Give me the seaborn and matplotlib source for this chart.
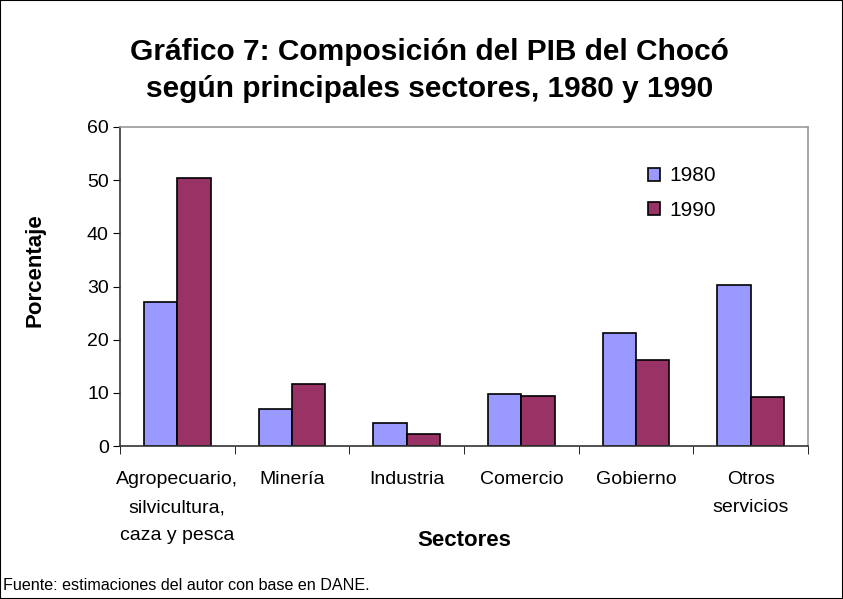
import matplotlib
matplotlib.use("Agg")
from matplotlib import pyplot as plt
import seaborn as sns
import pandas as pd
import numpy as np
from matplotlib.patches import Rectangle

# values
sectores = ["Agropecuario,\nsilvicultura,\ncaza y pesca", "Minería", "Industria",
            "Comercio", "Gobierno", "Otros\nservicios"]
valores_1980 = [27.0, 6.9, 4.3, 9.8, 21.2, 30.3]
valores_1990 = [50.4, 11.7, 2.2, 9.5, 16.1, 9.2]
anios = ["1980", "1990"]
colores = ["#9999FF", "#993366"]

df = pd.DataFrame({
    "Sector": sectores * 2,
    "Valor": valores_1980 + valores_1990,
    "Año": [anios[0]] * 6 + [anios[1]] * 6,
})

sns.set_style("white")
plt.rcParams["font.family"] = ["Liberation Sans", "DejaVu Sans"]
plt.rcParams["text.color"] = "black"
plt.rcParams["axes.labelcolor"] = "black"
plt.rcParams["xtick.color"] = "black"
plt.rcParams["ytick.color"] = "black"

fig = plt.figure(figsize=(8.43, 5.99), dpi=100)
ax = fig.add_axes([0.1423, 0.2554, 0.8162, 0.5326])

sns.barplot(data=df, x="Sector", y="Valor", hue="Año", palette=colores,
            width=0.58, edgecolor="black", linewidth=1.2, saturation=1, ax=ax)

ax.set_ylim(0, 60)
ax.set_xlim(-0.5, 5.5)
ax.set_yticks(np.arange(0, 61, 10))
ax.tick_params(axis="y", labelsize=14, length=5, direction="out", left=True, pad=3)
# ticks between categories
ax.set_xticks(np.arange(6))
ax.set_xticks(np.arange(-0.5, 6, 1), minor=True)
ax.tick_params(axis="x", which="major", length=0, labelsize=14, pad=18)
ax.tick_params(axis="x", which="minor", length=6, direction="out", bottom=True)
for lbl in ax.get_xticklabels():
    lbl.set_linespacing(1.85)
    lbl.set_verticalalignment("top")

for side in ["top", "right"]:
    ax.spines[side].set_color("#999999")
    ax.spines[side].set_linewidth(1.2)
for side in ["left", "bottom"]:
    ax.spines[side].set_color("#333333")
    ax.spines[side].set_linewidth(1.2)

ax.set_xlabel("Sectores", fontsize=16, fontweight="bold")
ax.xaxis.set_label_coords(0.5, -0.262)
ax.set_ylabel("Porcentaje", fontsize=16, fontweight="bold")
ax.yaxis.set_label_coords(-0.108, 0.552)

leg = ax.legend(title=None, loc="upper left", bbox_to_anchor=(0.74, 0.935), frameon=False,
                fontsize=15, handlelength=0.6, handleheight=0.6, labelspacing=0.75,
                handletextpad=0.45)

fig.text(0.51, 0.914, "Gráfico 7: Composición del PIB del Chocó", ha="center", va="center",
         fontsize=21.5, fontweight="bold")
fig.text(0.51, 0.852, "según principales sectores, 1980 y 1990", ha="center", va="center",
         fontsize=21.5, fontweight="bold")
fig.text(0.003, 0.023, "Fuente: estimaciones del autor con base en DANE.", ha="left",
         va="center", fontsize=11.6)

fig.patches.append(Rectangle((0, 0), 1, 1, transform=fig.transFigure, fill=False,
                             edgecolor="black", linewidth=1.5))

fig.savefig("out.png", dpi=100)
